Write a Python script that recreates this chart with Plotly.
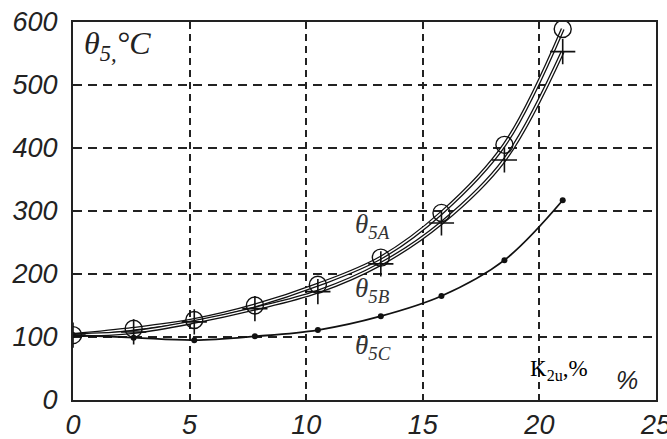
import plotly.graph_objects as go

# Data
k2u = [0.0, 2.6, 5.2, 7.8, 10.5, 13.2, 15.8, 18.5, 21.0]
theta_5A = [103, 113, 127, 150, 183, 226, 297, 405, 589]
theta_5B = [103, 108, 124, 145, 172, 216, 281, 381, 553]
theta_5C = [103, 99, 95, 101, 111, 133, 165, 222, 317]

x_ticks = [0, 5, 10, 15, 20, 25]
y_ticks = [0, 100, 200, 300, 400, 500, 600]

tick_font = dict(family="Liberation Sans, Arial, sans-serif", size=27,
                 color="#222222", style="italic")

fig = go.Figure()
# hollow-looking double lines for A and B
for ys in (theta_5A, theta_5B):
    fig.add_trace(go.Scatter(x=k2u, y=ys, mode="lines",
                             line=dict(color="#111111", width=4, shape="spline"),
                             showlegend=False, hoverinfo="skip"))
    fig.add_trace(go.Scatter(x=k2u, y=ys, mode="lines",
                             line=dict(color="white", width=1.4, shape="spline"),
                             showlegend=False, hoverinfo="skip"))
fig.add_trace(go.Scatter(
    x=k2u, y=theta_5A, mode="markers",
    marker=dict(symbol="circle-open", size=17, color="#111111", line=dict(width=1.4)),
    showlegend=False))
fig.add_trace(go.Scatter(
    x=k2u, y=theta_5B, mode="markers",
    marker=dict(symbol="cross-thin-open", size=18, color="#111111", line=dict(width=1.6)),
    showlegend=False))
fig.add_trace(go.Scatter(
    x=k2u, y=theta_5C, mode="lines+markers",
    line=dict(color="#111111", width=1.8, shape="spline"),
    marker=dict(symbol="circle", size=6, color="#111111"),
    showlegend=False))

axis_common = dict(showgrid=True, gridcolor="#222222", gridwidth=1.6,
                   showline=True, linecolor="#222222", linewidth=2, mirror=True,
                   ticks="", zeroline=False, tickfont=tick_font,
                   ticklabeloverflow="allow", automargin=False)

fig.update_xaxes(range=[-0.0005, 25.0005], tickvals=x_ticks,
                 ticktext=[str(v) for v in x_ticks], griddash="7px,5px", **axis_common)
fig.update_yaxes(range=[-0.01, 600.01], tickvals=y_ticks,
                 ticktext=[str(v) for v in y_ticks], griddash="9px,6px",
                 ticklabelstandoff=8, **axis_common)

serif_it = dict(family="Liberation Serif, DejaVu Serif, serif", size=27,
                color="#333333", style="italic")
ann = [
    dict(x=0.4, y=562, text="θ<sub>5,</sub>°C", xanchor="left", yanchor="middle",
         font=dict(family="Liberation Serif, serif", size=32, color="#222222", style="italic")),
    dict(x=12.0, y=276, text="θ<sub>5A</sub>", xanchor="left", yanchor="middle", font=serif_it),
    dict(x=12.0, y=174, text="θ<sub>5B</sub>", xanchor="left", yanchor="middle", font=serif_it),
    dict(x=12.0, y=84, text="θ<sub>5C</sub>", xanchor="left", yanchor="middle", font=serif_it),
    dict(x=19.5, y=48, text="K<sub>2u</sub>,%", xanchor="left", yanchor="middle",
         font=dict(family="Liberation Serif, serif", size=23, color="black")),
    dict(x=23.2, y=32, text="%", xanchor="left", yanchor="middle",
         font=dict(family="Liberation Sans, sans-serif", size=25, color="#222222", style="italic")),
]
for a in ann:
    a.update(xref="x", yref="y", showarrow=False)
fig.update_layout(annotations=ann)

fig.update_layout(width=667, height=439, margin=dict(l=73, r=11, t=22, b=39),
                  plot_bgcolor="white", paper_bgcolor="white")

fig.write_html("out.html", config={"displayModeBar": False},
               post_script="document.body.style.margin='0';document.body.style.overflow='hidden';")
